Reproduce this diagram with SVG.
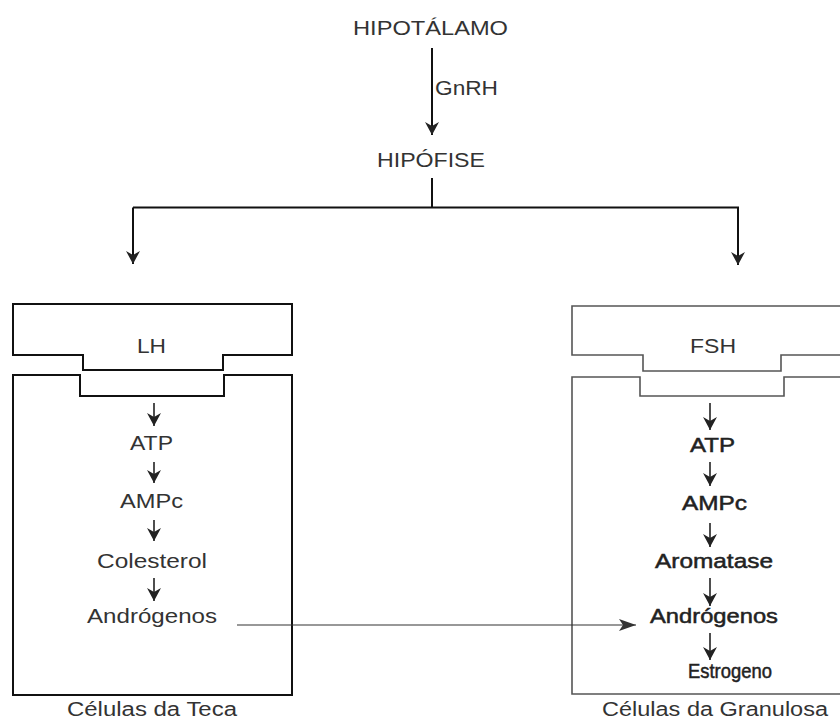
<svg xmlns="http://www.w3.org/2000/svg" width="840" height="722" viewBox="0 0 840 722">
<style>
  text{font-family:"Liberation Sans",Arial,sans-serif;font-size:21px;fill:#333;}
  .r{fill:#222;stroke:#222;stroke-width:0.5;}
  .cap{font-size:20px;}
  .boxL{fill:none;stroke:#111;stroke-width:2;}
  .boxR{fill:none;stroke:#555;stroke-width:1.6;}
  .ln{fill:none;stroke:#111;stroke-width:2;}
  .sm{fill:none;stroke:#222;stroke-width:1.6;}
  .thin{fill:none;stroke:#333;stroke-width:1.2;}
</style>
<defs>
  <marker id="ah" markerUnits="userSpaceOnUse" markerWidth="14" markerHeight="14" viewBox="0 0 14 14" refX="13" refY="7" orient="auto">
    <path d="M0,0 L13,7 L0,14 L4,7 Z" fill="#222"/>
  </marker>
  <marker id="ahL" markerUnits="userSpaceOnUse" markerWidth="18" markerHeight="14" viewBox="0 0 18 14" refX="17" refY="7" orient="auto">
    <path d="M0,1 L17,7 L0,13 L4,7 Z" fill="#333"/>
  </marker>
</defs>
<rect width="840" height="722" fill="#fff"/>

<g id="hipotalamo"><text x="353" y="35" textLength="155" lengthAdjust="spacingAndGlyphs">HIPOTÁLAMO</text></g>
<g id="hipofise"><text x="377" y="167" textLength="108" lengthAdjust="spacingAndGlyphs">HIPÓFISE</text></g>

<g id="lh-receptor">
  <path class="boxL" d="M13,304 H292 V355 H223 V370 H83 V355 H13 Z"/>
  <text x="137" y="353" textLength="29" lengthAdjust="spacingAndGlyphs">LH</text>
</g>
<g id="celulas-teca">
  <path class="boxL" d="M13,375 H80 V396 H224 V375 H292 V695 H13 Z"/>
  <text class="cap" x="67" y="716" textLength="170" lengthAdjust="spacingAndGlyphs">Células da Teca</text>
</g>
<g id="teca-atp"><text x="130" y="450" textLength="43" lengthAdjust="spacingAndGlyphs">ATP</text></g>
<g id="teca-ampc"><text x="120" y="508" textLength="63" lengthAdjust="spacingAndGlyphs">AMPc</text></g>
<g id="teca-colesterol"><text x="97" y="568" textLength="110" lengthAdjust="spacingAndGlyphs">Colesterol</text></g>
<g id="teca-androgenos"><text x="87" y="623" textLength="130" lengthAdjust="spacingAndGlyphs">Andrógenos</text></g>

<g id="fsh-receptor">
  <path class="boxR" d="M845,306 H572 V355 H643 V371 H781 V355 H845"/>
  <text x="690" y="353" textLength="46" lengthAdjust="spacingAndGlyphs">FSH</text>
</g>
<g id="celulas-granulosa">
  <path class="boxR" d="M845,377 H784 V396 H640 V377 H572 V694 H845"/>
  <text class="cap" x="602" y="716" textLength="226" lengthAdjust="spacingAndGlyphs">Células da Granulosa</text>
</g>
<g id="gran-atp"><text class="r" x="690" y="452" textLength="45" lengthAdjust="spacingAndGlyphs">ATP</text></g>
<g id="gran-ampc"><text class="r" x="682" y="510" textLength="65" lengthAdjust="spacingAndGlyphs">AMPc</text></g>
<g id="gran-aromatase"><text class="r" x="655" y="568" textLength="118" lengthAdjust="spacingAndGlyphs">Aromatase</text></g>
<g id="gran-androgenos"><text class="r" x="650" y="623" textLength="128" lengthAdjust="spacingAndGlyphs">Andrógenos</text></g>
<g id="gran-estrogeno"><text class="r" x="688" y="678" textLength="84" lengthAdjust="spacingAndGlyphs">Estrogeno</text></g>

<g id="connectors">
  <line class="ln" x1="432" y1="48" x2="432" y2="135" marker-end="url(#ah)"/>
  <text x="435" y="95" textLength="63" lengthAdjust="spacingAndGlyphs">GnRH</text>
  <line class="ln" x1="432" y1="178" x2="432" y2="208"/>
  <path class="ln" d="M133,207.5 H738 V265" marker-end="url(#ah)"/>
  <line class="ln" x1="133" y1="207.5" x2="133" y2="264" marker-end="url(#ah)"/>

  <line class="sm" x1="154" y1="403" x2="154" y2="426" marker-end="url(#ah)"/>
  <line class="sm" x1="154" y1="462" x2="154" y2="483" marker-end="url(#ah)"/>
  <line class="sm" x1="154" y1="520" x2="154" y2="541" marker-end="url(#ah)"/>
  <line class="sm" x1="154" y1="578" x2="154" y2="601" marker-end="url(#ah)"/>

  <line class="sm" x1="710" y1="403" x2="710" y2="430" marker-end="url(#ah)"/>
  <line class="sm" x1="710" y1="462" x2="710" y2="486" marker-end="url(#ah)"/>
  <line class="sm" x1="710" y1="523" x2="710" y2="547" marker-end="url(#ah)"/>
  <line class="sm" x1="710" y1="578" x2="710" y2="606" marker-end="url(#ah)"/>
  <line class="sm" x1="710" y1="633" x2="710" y2="660" marker-end="url(#ah)"/>

  <line class="thin" x1="237" y1="625" x2="636" y2="625" marker-end="url(#ahL)"/>
</g>
</svg>
